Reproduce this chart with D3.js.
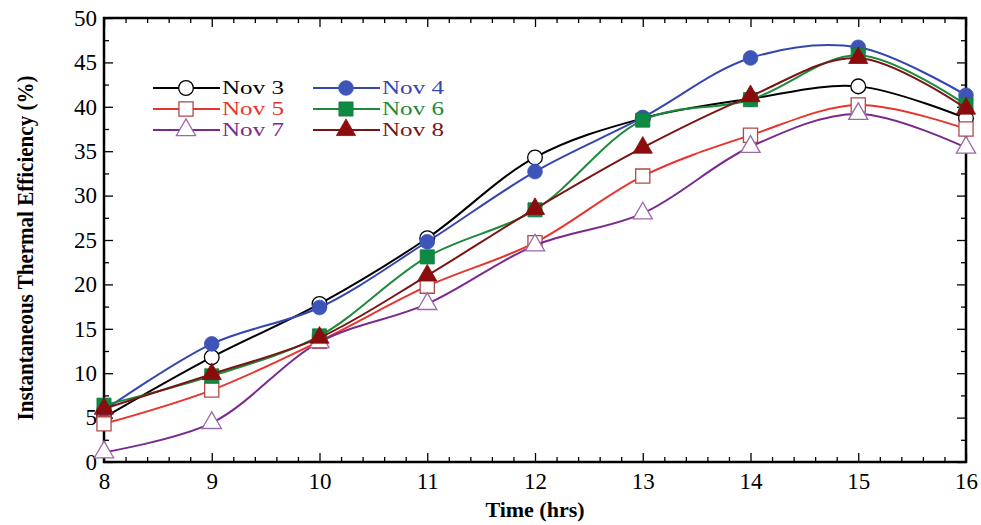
<!DOCTYPE html>
<html>
<head>
<meta charset="utf-8">
<script src="https://cdn.jsdelivr.net/npm/d3@7"></script>
<style>
  body { margin: 0; background: #fff; }
  text { font-family: "Liberation Serif", "Times New Roman", serif; }
</style>
</head>
<body>
<script>
// hours on the x axis
hours = [8, 9, 10, 11, 12, 13, 14, 15, 16];

// efficiency (%) per day
nov3 = [5.0, 11.8, 17.8, 25.2, 34.3, 38.7, 40.9, 42.3, 38.7];
nov4 = [5.8, 13.3, 17.4, 24.8, 32.7, 38.8, 45.5, 46.7, 41.3];
nov5 = [4.3, 8.1, 13.6, 19.8, 24.7, 32.2, 36.8, 40.2, 37.5];
nov6 = [6.4, 9.7, 14.2, 23.1, 28.4, 38.5, 40.8, 45.8, 40.2];
nov7 = [1.1, 4.4, 13.5, 17.8, 24.4, 28.0, 35.5, 39.2, 35.4];
nov8 = [6.0, 9.9, 14.0, 21.0, 28.5, 35.4, 41.2, 45.5, 39.8];

seriesNames = ["Nov 3", "Nov 4", "Nov 5", "Nov 6", "Nov 7", "Nov 8"];
seriesValues = [nov3, nov4, nov5, nov6, nov7, nov8];

xTicks = [8, 9, 10, 11, 12, 13, 14, 15, 16];
yTicks = [0, 5, 10, 15, 20, 25, 30, 35, 40, 45, 50];

// look of each series
styles = [
  {line: "#000000", text: "#000000", shape: "circle",   fill: "#ffffff", stroke: "#000000"},
  {line: "#3446b0", text: "#3446b0", shape: "circle",   fill: "#3d55b8", stroke: "#3d55b8"},
  {line: "#e8342c", text: "#e8342c", shape: "square",   fill: "#ffffff", stroke: "#b24848"},
  {line: "#1c8a3a", text: "#1c8a3a", shape: "square",   fill: "#0f8a45", stroke: "#0f7a3c"},
  {line: "#7a2a8e", text: "#7a2a8e", shape: "triangle", fill: "#ffffff", stroke: "#9a6aa8"},
  {line: "#7a1414", text: "#7a1414", shape: "triangle", fill: "#8a0c0c", stroke: "#8a0c0c"}
];

w = 981;
h = 525;
margin = {top: 18, right: 15, bottom: 63, left: 104};
pw = w - margin.left - margin.right;
ph = h - margin.top - margin.bottom;

svg = d3.select("body")
  .append("svg")
    .attr("width", w)
    .attr("height", h);

g = svg.append("g")
  .attr("transform", "translate(" + margin.left + "," + margin.top + ")");

x = d3.scaleLinear().domain([8, 16]).range([0, pw]);
y = d3.scaleLinear().domain([0, 50]).range([ph, 0]);

xMinor = d3.range(8, 16.001, 0.2).filter(v => Math.abs(v - Math.round(v)) > 0.01);
yMinor = d3.range(2.5, 50, 5);

function drawAxis(axis, tr, size, values, labels, pad) {
  var a = g.append("g")
    .attr("transform", tr)
    .call(axis.tickValues(values).tickSizeInner(-size).tickSizeOuter(0).tickPadding(pad || 10)
      .tickFormat(labels ? d3.format("d") : ""));
  a.select(".domain").remove();
  a.selectAll("line").attr("stroke", "#000").attr("stroke-width", 1.3);
  a.selectAll("text")
    .style("font-family", "'Liberation Serif', serif")
    .style("font-size", "23px")
    .attr("fill", "#000");
  return a;
}

// major and minor ticks, pointing inward on all four sides
drawAxis(d3.axisBottom(x), "translate(0," + ph + ")", 9, xTicks, true, 11);
drawAxis(d3.axisBottom(x), "translate(0," + ph + ")", 5, xMinor, false);
drawAxis(d3.axisTop(x), "translate(0,0)", -9, xTicks, false).selectAll("line").attr("y2", 9);
drawAxis(d3.axisTop(x), "translate(0,0)", -5, xMinor, false).selectAll("line").attr("y2", 5);
drawAxis(d3.axisLeft(y), "translate(0,0)", 9, yTicks, true, 7);
drawAxis(d3.axisLeft(y), "translate(0,0)", 5, yMinor, false);
drawAxis(d3.axisRight(y), "translate(" + pw + ",0)", -9, yTicks, false).selectAll("line").attr("x2", -9);
drawAxis(d3.axisRight(y), "translate(" + pw + ",0)", -5, yMinor, false).selectAll("line").attr("x2", -5);

// frame
g.append("rect")
  .attr("width", pw)
  .attr("height", ph)
  .attr("fill", "none")
  .attr("stroke", "#000")
  .attr("stroke-width", 2.5);

line = d3.line()
  .x((d, i) => x(hours[i]))
  .y(d => y(d))
  .curve(d3.curveCatmullRom.alpha(0.5));

function marker(sel, st) {
  var sym;
  if (st.shape == "circle") sym = d3.symbol(d3.symbolCircle, 170);
  else if (st.shape == "square") sym = d3.symbol(d3.symbolSquare, 200);
  else sym = d3.symbol(d3.symbolTriangle, 160);
  sel.append("path")
    .attr("d", sym)
    .attr("fill", st.fill)
    .attr("stroke", st.stroke)
    .attr("stroke-width", st.fill == "#ffffff" ? 1.3 : 0.8);
}

seriesValues.forEach((vals, k) => {
  var st = styles[k];
  var sg = g.append("g");
  sg.append("path")
    .datum(vals)
    .attr("d", line)
    .attr("fill", "none")
    .attr("stroke", st.line)
    .attr("stroke-width", 2);
  sg.selectAll(".pt")
    .data(vals)
    .enter()
    .append("g")
      .attr("transform", (d, i) => "translate(" + x(hours[i]) + "," + y(d) + ")")
      .each(function() { marker(d3.select(this), st); });
});

// legend, two columns by three rows
legend = svg.append("g");
seriesNames.forEach((name, k) => {
  var st = styles[k];
  var col = k % 2, row = Math.floor(k / 2);
  var lx = 153 + col * 160, ly = 88 + row * 21;
  var lg = legend.append("g").attr("transform", "translate(" + lx + "," + ly + ")");
  lg.append("line")
    .attr("x1", 0).attr("x2", 67)
    .attr("stroke", st.line)
    .attr("stroke-width", 2);
  marker(lg.append("g").attr("transform", "translate(33,0)"), st);
  lg.append("text")
    .attr("x", 69)
    .attr("y", 6)
    .attr("textLength", 62)
    .attr("lengthAdjust", "spacingAndGlyphs")
    .style("font-size", "19px")
    .attr("fill", st.text)
    .text(name);
});

// axis titles
svg.append("text")
  .attr("x", margin.left + pw / 2)
  .attr("y", 517)
  .attr("text-anchor", "middle")
  .style("font-size", "22px")
  .style("font-weight", "bold")
  .text("Time (hrs)");

svg.append("text")
  .attr("transform", "translate(33,248) rotate(-90)")
  .attr("text-anchor", "middle")
  .attr("textLength", 345)
  .attr("lengthAdjust", "spacingAndGlyphs")
  .style("font-size", "24px")
  .style("font-weight", "bold")
  .text("Instantaneous Thermal Efficiency (%)");
</script>
</body>
</html>
